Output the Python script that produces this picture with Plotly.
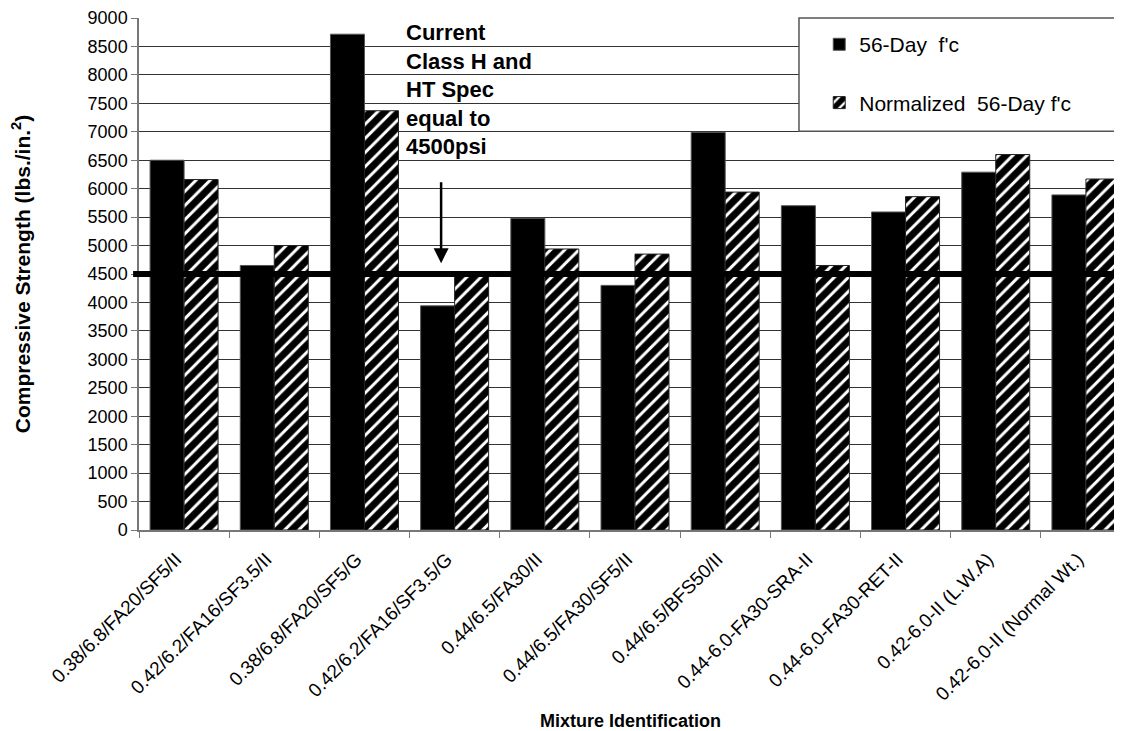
import plotly.graph_objects as go

categories = ["0.38/6.8/FA20/SF5/II", "0.42/6.2/FA16/SF3.5/II", "0.38/6.8/FA20/SF5/G",
              "0.42/6.2/FA16/SF3.5/G", "0.44/6.5/FA30/II", "0.44/6.5/FA30/SF5/II",
              "0.44/6.5/BFS50/II", "0.44-6.0-FA30-SRA-II", "0.44-6.0-FA30-RET-II",
              "0.42-6.0-II (L.W.A)", "0.42-6.0-II (Normal Wt.)"]
fc56 = [6500, 4650, 8715, 3940, 5480, 4300, 6990, 5700, 5590, 6290, 5890]
fc56_norm = [6160, 5000, 7370, 4530, 4940, 4850, 5940, 4650, 5860, 6600, 6170]
spec_value = 4500
y_ticks = list(range(0, 9001, 500))

FONT = "Liberation Sans, Arial, sans-serif"

fig = go.Figure()
fig.add_trace(go.Bar(
    x=categories, y=fc56, name="56-Day  f'c",
    marker=dict(color="black", line=dict(color="#555", width=1)),
    legendgroup="a",
))
fig.add_trace(go.Bar(
    x=categories, y=fc56_norm, name="Normalized  56-Day f'c",
    marker=dict(color="white", line=dict(color="#222", width=1),
                pattern=dict(shape="/", fgcolor="black", fgopacity=1, bgcolor="white",
                             size=10, solidity=0.7)),
    legendgroup="b",
))

# legend frame (white box covering gridlines)
fig.add_shape(type="rect", xref="paper", yref="paper", x0=0.6714, x1=1.02, y0=0.779, y1=1.0,
              fillcolor="white", line=dict(color="#555", width=1.5), layer="above")

# specification line
fig.add_shape(type="line", xref="paper", yref="y", x0=-0.006, x1=1, y0=spec_value, y1=spec_value,
              line=dict(color="black", width=6), layer="above")

# annotation text
fig.add_annotation(xref="paper", yref="paper", x=0.2695, y=1.0, xanchor="left", yanchor="top",
                   text="<b>Current<br>Class H and<br>HT Spec<br>equal to<br>4500psi</b>",
                   showarrow=False, align="left",
                   font=dict(family=FONT, size=22, color="black"))
# arrow
fig.add_annotation(xref="x", yref="y", axref="x", ayref="y",
                   x=2.85, y=4690, ax=2.85, ay=6140, text="",
                   showarrow=True, arrowhead=2, arrowsize=1.2, arrowwidth=2.5, arrowcolor="black")

fig.update_layout(
    width=1114, height=723,
    margin=dict(l=131, r=0, t=10, b=201),
    paper_bgcolor="white", plot_bgcolor="white",
    barmode="group", bargap=0.246, bargroupgap=0,
    font=dict(family=FONT, size=18, color="black"),
    showlegend=True,
    legend=dict(x=0.692, y=0.988, xanchor="left", yanchor="top",
                bgcolor="rgba(0,0,0,0)", borderwidth=0,
                font=dict(family=FONT, size=21), tracegroupgap=28,
                traceorder="grouped"),
    xaxis=dict(
        type="category", range=[-0.5, 10.4],
        tickangle=-45, ticks="outside", tickson="boundaries", ticklen=6,
        tickcolor="#777", showline=True, linecolor="#777", linewidth=1.5,
        showgrid=False, tickfont=dict(family=FONT, size=19),
        ticklabelstandoff=9, ticklabelshift=-8,
        title=dict(text="<b>Mixture Identification</b>", font=dict(family=FONT, size=18), standoff=16),
        automargin=False,
    ),
    yaxis=dict(
        range=[0, 9000], tickvals=y_ticks, ticks="outside", ticklen=6, tickcolor="#777",
        showline=True, linecolor="#777", linewidth=1.5,
        showgrid=True, gridcolor="#333", gridwidth=1, zeroline=False,
        tickfont=dict(family=FONT, size=18), ticklabeloverflow="allow",
        title=dict(text="<b>Compressive Strength (lbs./in.<sup>2</sup>)</b>",
                   font=dict(family=FONT, size=21), standoff=52),
        automargin=False,
    ),
)

fig.write_html("out.html")
